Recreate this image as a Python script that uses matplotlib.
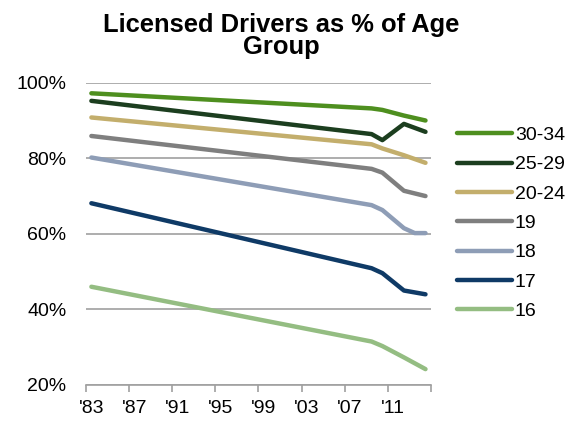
import matplotlib
matplotlib.use("Agg")
import matplotlib.pyplot as plt

plt.rcParams['font.family'] = ['Liberation Sans', 'DejaVu Sans']

years = [1983, 2009, 2010, 2012, 2014]
series_names = ["30-34", "25-29", "20-24", "19", "18", "17", "16"]
v_30_34 = [97.2, 93.2, 92.8, 91.3, 90.0]
v_25_29 = [95.2, 86.4, 84.8, 89.1, 87.0]
v_20_24 = [90.8, 83.7, 82.6, 80.8, 78.8]
v_19 = [85.9, 77.2, 76.2, 71.4, 70.0]
years_18 = [1983, 2009, 2010, 2012, 2013, 2014]
v_18 = [80.2, 67.6, 66.3, 61.5, 60.2, 60.2]
v_17 = [68.1, 50.9, 49.6, 45.0, 44.0]
v_16 = [46.0, 31.5, 30.3, 27.3, 24.2]
tick_labels = ["'83", "'87", "'91", "'95", "'99", "'03", "'07", "'11"]
y_ticks = [20, 40, 60, 80, 100]

colors = ["#4E8F1F", "#1C3E1F", "#C3AE6C", "#7F7F7F", "#8E9DB6", "#0F3A66", "#94BD82"]
series = [(years, v_30_34), (years, v_25_29), (years, v_20_24), (years, v_19),
          (years_18, v_18), (years, v_17), (years, v_16)]

fig = plt.figure(figsize=(5.71, 4.22), dpi=100)
ax = fig.add_axes([0.1506, 0.0877, 0.604, 0.7163])

lines = []
for (xs, ys), name, c in zip(series, series_names, colors):
    ln, = ax.plot(xs, ys, color=c, lw=3.2, solid_capstyle='round', solid_joinstyle='round', label=name, zorder=3)
    lines.append(ln)

ax.set_xlim(1982.5, 2014.5)
ax.set_ylim(20, 100)
ax.set_yticks(y_ticks)
ax.set_yticklabels([f"{t}%" for t in y_ticks], fontsize=14)
ax.yaxis.grid(True, color="#A0A0A0", lw=1.2)
ax.set_axisbelow(True)
ax.tick_params(axis='y', length=0, pad=14)

major = [1982.5 + 4 * i for i in range(9)]
ax.set_xticks(major)
ax.set_xticklabels([])
ax.tick_params(axis='x', which='major', length=5, width=1.2, color="#A0A0A0", direction='out')
ax.set_xticks([1983 + 4 * i for i in range(8)], minor=True)
ax.set_xticklabels(tick_labels, minor=True, fontsize=14)
ax.tick_params(axis='x', which='minor', length=0, pad=11)

for s in ['top', 'right', 'left']:
    ax.spines[s].set_visible(False)
ax.spines['bottom'].set_color("#A0A0A0")
ax.spines['bottom'].set_linewidth(1.2)

fig.text(0.492, 0.97, "Licensed Drivers as % of Age\nGroup", ha='center', va='top',
         fontsize=18.4, fontweight='bold', linespacing=0.92)

leg = fig.legend(handles=lines, loc='upper left', bbox_to_anchor=(0.8, 0.7),
                 frameon=False, fontsize=14, handlelength=2.84, handletextpad=0.15,
                 labelspacing=0.6, borderaxespad=0, borderpad=0)

fig.savefig("out.png", dpi=100)
